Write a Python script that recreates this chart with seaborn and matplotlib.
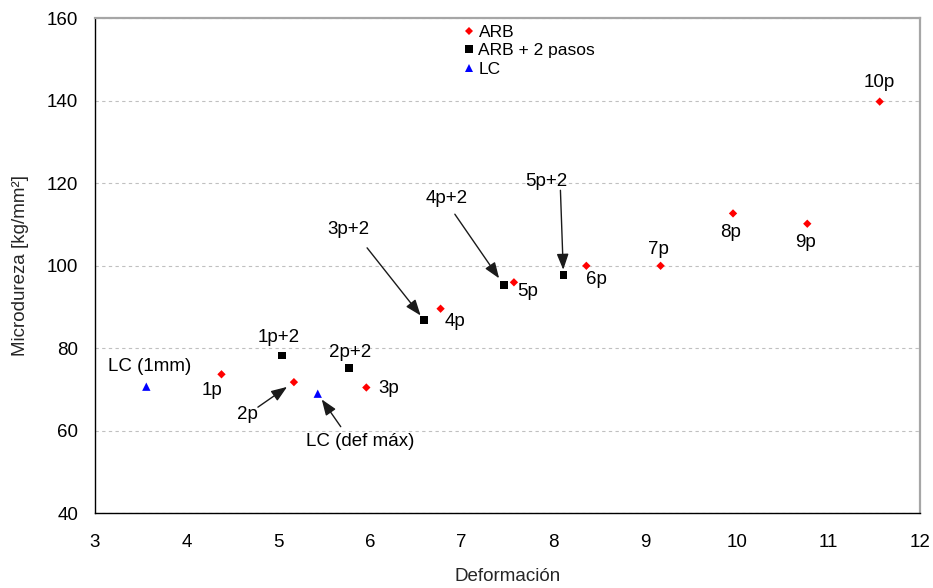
import matplotlib
matplotlib.use("Agg")
import matplotlib.pyplot as plt
import seaborn as sns
import pandas as pd

# ARB samples (red diamonds)
arb_labels = ["1p", "2p", "3p", "4p", "5p", "6p", "7p", "8p", "9p", "10p"]
arb_def = [4.38, 5.17, 5.96, 6.77, 7.57, 8.36, 9.17, 9.96, 10.77, 11.56]
arb_hv = [73.7, 71.8, 70.5, 89.6, 96.0, 100.0, 100.0, 112.7, 110.2, 139.8]

# ARB + 2 extra passes (black squares)
arb2_labels = ["1p+2", "2p+2", "3p+2", "4p+2", "5p+2"]
arb2_def = [5.04, 5.77, 6.59, 7.46, 8.11]
arb2_hv = [78.3, 75.2, 86.9, 95.3, 97.7]

# LC samples (blue triangles)
lc_labels = ["LC (1mm)", "LC (def máx)"]
lc_def = [3.56, 5.43]
lc_hv = [70.7, 69.0]

series_names = ["ARB", "ARB + 2 pasos", "LC"]
x_ticks = [3, 4, 5, 6, 7, 8, 9, 10, 11, 12]
y_ticks = [40, 60, 80, 100, 120, 140, 160]

df = pd.DataFrame({
    "Deformación": arb_def + arb2_def + lc_def,
    "Microdureza": arb_hv + arb2_hv + lc_hv,
    "serie": ["ARB"] * len(arb_def) + ["ARB + 2 pasos"] * len(arb2_def) + ["LC"] * len(lc_def),
    "etiqueta": arb_labels + arb2_labels + lc_labels,
})

sns.set_theme(style="white")
plt.rcParams["font.family"] = ["Liberation Sans", "DejaVu Sans"]

fig = plt.figure(figsize=(9.33, 5.88), dpi=100)
ax = fig.add_axes([0.1018, 0.127, 0.8843, 0.8419])

sns.scatterplot(
    data=df, x="Deformación", y="Microdureza",
    hue="serie", style="serie", size="serie",
    hue_order=series_names, style_order=series_names, size_order=series_names,
    palette={"ARB": "#ff0000", "ARB + 2 pasos": "#000000", "LC": "#0000ff"},
    markers={"ARB": "D", "ARB + 2 pasos": "s", "LC": "^"},
    sizes={"ARB": 18, "ARB + 2 pasos": 30, "LC": 36},
    edgecolor="none", linewidth=0, ax=ax, zorder=3,
)

ax.set_xlim(3, 12)
ax.set_ylim(40, 160)
ax.set_xticks(x_ticks)
ax.set_yticks(y_ticks)
ax.tick_params(axis="both", direction="out", length=5, width=1, color="black",
               labelsize=13.5, labelcolor="black")
ax.tick_params(axis="x", pad=10)
ax.tick_params(axis="y", pad=7)
ax.yaxis.grid(True, color="#c0c0c0", linestyle=(0, (3, 3)), linewidth=0.8)
ax.xaxis.grid(False)
ax.set_axisbelow(True)

for side in ("left", "bottom"):
    ax.spines[side].set_color("#000000")
    ax.spines[side].set_linewidth(1.0)
for side in ("top", "right"):
    ax.spines[side].set_color("#a6a6a6")
    ax.spines[side].set_linewidth(1.6)

ax.set_xlabel("Deformación", fontsize=13.5, labelpad=12)
ax.set_ylabel("Microdureza [kg/mm²]", fontsize=13.5, labelpad=13)

# point labels: offsets in pixels from each point
label_offsets = {
    "1p": (-9, -16), "2p": (-46, -32), "3p": (22, -1), "4p": (14, -13),
    "5p": (14, -9), "6p": (10, -14), "7p": (-2, 16), "8p": (-2, -19),
    "9p": (-2, -19), "10p": (0, 19),
    "1p+2": (-3, 18), "2p+2": (1, 16), "3p+2": (-76, 90),
    "4p+2": (-57, 87), "5p+2": (-17, 94),
    "LC (1mm)": (3, 20), "LC (def máx)": (42, -48),
}
# arrows: tail offset (pixels) from point and gap at the head (points)
arrow_specs = {
    "2p": ((-36, -25), 6),
    "LC (def máx)": ((23, -33), 5),
    "3p+2": ((-57, 72), 4),
    "4p+2": ((-49, 71), 6),
    "5p+2": ((-3, 85), 4),
}

for _, row in df.iterrows():
    name = row["etiqueta"]
    xy = (row["Deformación"], row["Microdureza"])
    ax.annotate(name, xy=xy, xytext=label_offsets[name], textcoords="offset pixels",
                ha="center", va="center", fontsize=13.5, color="black", zorder=4)
    if name in arrow_specs:
        tail, gap = arrow_specs[name]
        ax.annotate("", xy=xy, xytext=tail, textcoords="offset pixels",
                    arrowprops=dict(arrowstyle="-|>,head_length=0.8,head_width=0.3",
                                    color="#1a1a1a", lw=1.0, shrinkA=0, shrinkB=gap,
                                    mutation_scale=12), zorder=4)

leg = ax.legend(loc="upper left", bbox_to_anchor=(0.428, 1.012), frameon=False,
                fontsize=12.5, handletextpad=0.05, handlelength=1.0,
                labelspacing=0.2, borderaxespad=0.3)
for t in leg.get_texts():
    t.set_color("black")

fig.savefig("out.png", dpi=100)
